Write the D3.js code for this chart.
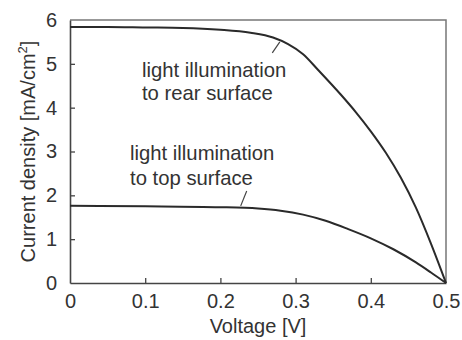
<!DOCTYPE html>
<html><head><meta charset="utf-8">
<script src="https://cdn.jsdelivr.net/npm/d3@7"></script>
<style>body{margin:0;background:#fff}text{font-family:"Liberation Sans",Arial,sans-serif;fill:#333}</style>
</head><body><svg id="c" width="462" height="340"></svg>
<script>
const voltageRear = [0, 0.05, 0.1, 0.15, 0.2, 0.24, 0.27, 0.29, 0.31, 0.33, 0.36, 0.38, 0.40, 0.42, 0.44, 0.46, 0.48, 0.5];
const currentRear = [5.84, 5.84, 5.83, 5.82, 5.78, 5.71, 5.60, 5.45, 5.22, 4.86, 4.30, 3.90, 3.46, 2.97, 2.40, 1.72, 0.90, 0];
const voltageTop = [0, 0.1, 0.2, 0.25, 0.28, 0.31, 0.34, 0.37, 0.40, 0.43, 0.46, 0.48, 0.5];
const currentTop = [1.76, 1.75, 1.73, 1.70, 1.65, 1.56, 1.42, 1.23, 1.02, 0.77, 0.47, 0.24, 0];
const xTicks = [0, 0.1, 0.2, 0.3, 0.4, 0.5];
const yTicks = [0, 1, 2, 3, 4, 5, 6];
const labelRear = ["light illumination", "to rear surface"];
const labelTop = ["light illumination", "to top surface"];

const svg = d3.select("#c");
const m = {l:70, r:16, t:20, b:57};
const W = 462, H = 340;
const x = d3.scaleLinear().domain([0, 0.5]).range([m.l, W - m.r]);
const y = d3.scaleLinear().domain([0, 6]).range([H - m.b, m.t]);

svg.append("path").attr("d", `M${x(0)},${y(6)}H${x(0.5)}V${y(0)}`)
  .attr("fill","none").attr("stroke","#777").attr("stroke-width",1.5);

const xa = svg.append("g").attr("transform",`translate(0,${y(0)})`)
  .call(d3.axisBottom(x).tickValues(xTicks).tickSizeInner(-5).tickSizeOuter(0).tickPadding(11)
    .tickFormat(d => d === 0 ? "0" : d3.format(".1f")(d)));
const ya = svg.append("g").attr("transform",`translate(${x(0)},0)`)
  .call(d3.axisLeft(y).tickValues(yTicks).tickSizeInner(-5).tickSizeOuter(0).tickPadding(13)
    .tickFormat(d3.format("d")));
[xa, ya].forEach(a => {
  a.select(".domain").attr("stroke","#444").attr("stroke-width",1.6);
  a.selectAll(".tick line").attr("stroke","#444").attr("stroke-width",1.3);
  a.selectAll(".tick text").attr("font-size",20).attr("fill","#333")
   .style("font-family","'Liberation Sans',Arial,sans-serif");
});
xa.selectAll(".tick line").filter(d => d === 0 || d === 0.5).remove();
ya.selectAll(".tick line").filter(d => d === 0 || d === 6).remove();

const line = d3.line().x(d => x(d[0])).y(d => y(d[1])).curve(d3.curveMonotoneX);
svg.append("path").datum(voltageRear.map((v,i)=>[v,currentRear[i]]))
  .attr("d", line).attr("fill","none").attr("stroke","#2a2a2a").attr("stroke-width",2);
svg.append("path").datum(voltageTop.map((v,i)=>[v,currentTop[i]]))
  .attr("d", line).attr("fill","none").attr("stroke","#2a2a2a").attr("stroke-width",2);

function addLabel(lines, vx, jy, lineGapJ) {
  lines.forEach((s,i) => svg.append("text").attr("x", x(vx)).attr("y", y(jy - i*lineGapJ))
    .attr("font-size",20.3).text(s));
}
addLabel(labelRear, 0.0957, 4.70, 0.525);
addLabel(labelTop, 0.0798, 2.806, 0.57);
const leaders = [[[0.269,5.25],[0.279,5.50]], [[0.227,1.76],[0.235,2.10]]];
leaders.forEach(l => svg.append("line").attr("x1",x(l[0][0])).attr("y1",y(l[0][1]))
  .attr("x2",x(l[1][0])).attr("y2",y(l[1][1])).attr("stroke","#444").attr("stroke-width",1.2));

svg.append("text").attr("x", (x(0)+x(0.5))/2).attr("y", 333).attr("text-anchor","middle")
  .attr("font-size",20).text("Voltage [V]");
const yl = svg.append("text").attr("transform",`translate(35,${(y(0)+y(6))/2}) rotate(-90)`)
  .attr("text-anchor","middle").attr("font-size",20);
yl.append("tspan").text("Current density [mA/cm");
yl.append("tspan").attr("font-size",13).attr("dy",-8).text("2");
yl.append("tspan").attr("dy",8).text("]");
</script></body></html>
